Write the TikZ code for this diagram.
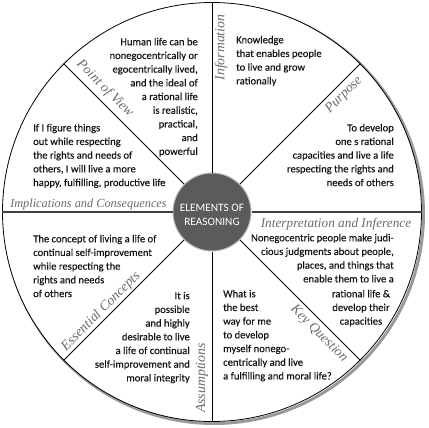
\documentclass[tikz,border=0pt]{standalone}
\usepackage{fontspec}
\setmainfont{Carlito}
\newfontfamily\bodyfont{Carlito}[FakeBold=0.35]
\newfontfamily\labelfont{Liberation Serif}
\definecolor{labelgray}{HTML}{6A6A6A}
\definecolor{hubgray}{HTML}{5B5B5B}
\definecolor{shadowgray}{HTML}{9A9A9A}
\definecolor{inkc}{HTML}{141414}
\begin{document}
\begin{tikzpicture}[x=1pt,y=-1pt,
  body/.style={inner sep=0pt, text=inkc, font=\bodyfont\fontsize{10.6}{13.7}\selectfont},
  lbl/.style={inner sep=0pt, text=labelgray, font=\labelfont\itshape\fontsize{#1}{#1}\selectfont},
  lbl/.default=13.8,
  spoke/.style={line width=0.9pt, black},
  thickspoke/.style={line width=1.6pt, black!75},
]
\useasboundingbox (0,0) rectangle (429,428);
\coordinate (c) at (212,212);
\coordinate (cs) at (214,214);
% drop shadow of the rim
\begin{scope}[even odd rule]
  \clip (0,0) rectangle (429,428) (212,212) circle (209.5pt);
  \draw[shadowgray, line width=3pt] (cs) circle (209.5pt);
\end{scope}
% rim and hub
\node[circle, draw=black, line width=0.8pt, inner sep=0pt, minimum size=419pt] (rim) at (c) {};
\node[circle, fill=hubgray, draw=gray!55, line width=1pt, inner sep=0pt, minimum size=78pt] (hub) at (c) {};
\node[text=white, inner sep=0pt, align=center, font=\fontsize{11.3}{14.5}\selectfont] (hubtext) at (212,215) {ELEMENTS OF\\REASONING};
% spokes
\draw[thickspoke] (hub.0) -- (rim.0);
\draw[thickspoke] (hub.180) -- (rim.180);
\draw[spoke] (hub.45) -- (rim.45);
\draw[spoke] (hub.90) -- (rim.90);
\draw[spoke] (hub.135) -- (rim.135);
\draw[spoke] (hub.225) -- (rim.225);
\draw[spoke] (hub.270) -- (rim.270);
\draw[spoke] (hub.315) -- (rim.315);
% labels
\node[lbl, rotate=90] (lInfo) at (221,47.5) {Information};
\node[lbl, rotate=90] (lAssum) at (202,378) {Assumptions};
\node[lbl, rotate=45] (lPurp) at (344,95) {Purpose};
\node[lbl, rotate=-45] (lPov) at (105,88.5) {Point of View};
\node[lbl, rotate=45] (lEss) at (101,311.5) {Essential Concepts};
\node[lbl, rotate=-45] (lKey) at (319,334) {Key Question};
\node[lbl=12.3, anchor=base] (lImp) at (88.5,207) {Implications and Consequences};
\node[lbl=13.3, anchor=base] (lInt) at (336,227) {Interpretation and Inference};
% texts
\node[body, anchor=north east, align=right] (tPov) at (198,37.7) {Human life can be\\nonegocentrically or\\egocentrically lived,\\and the ideal of\\a rational life\\is realistic,\\practical,\\and\\powerful};
\node[body, anchor=north west, align=left] (tInfo) at (236,35.7) {Knowledge\\that enables people\\to live and grow\\rationally};
\node[body, anchor=north east, align=right] (tPurp) at (394,123.7) {To develop\\one s rational\\capacities and live a life\\respecting the rights and\\needs of others};
\node[body, anchor=north west, align=left] (tImp) at (33,123.7) {If I figure things\\out while respecting\\the rights and needs of\\others, I will live a more\\happy, fulfilling, productive life};
\node[body, anchor=north west, align=left] (tEss) at (33,234.7) {The concept of living a life of\\continual self-improvement\\while respecting the\\rights and needs\\of others};
\node[body, anchor=north east, align=right] (tAss) at (190,291.7) {It is\\possible\\and highly\\desirable to live\\a life of continual\\self-improvement and\\moral integrity};
\node[body, anchor=north west, align=left] (tKey) at (223,289.7) {What is\\the best\\way for me\\to develop\\myself nonego-\\centrically and live\\a fulfilling and moral life?};
\node[body, anchor=north east, align=right] (tInt) at (394,233.7) {Nonegocentric people make judi-\\cious judgments about people,\\places, and things that\\enable them to live a};
\node[body, anchor=north, align=center] (tInt2) at (361,289.7) {rational life \&\\develop their\\capacities};
\end{tikzpicture}
\end{document}
